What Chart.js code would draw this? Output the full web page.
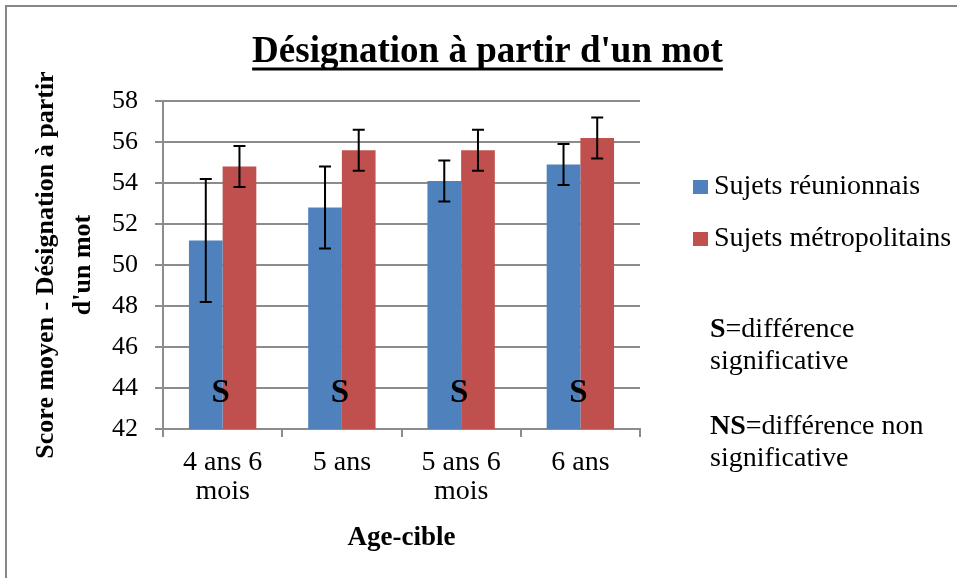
<!DOCTYPE html>
<html>
<head>
<meta charset="utf-8">
<script src="https://cdn.jsdelivr.net/npm/chart.js@4.4.1/dist/chart.umd.min.js"></script>
<style>
    html, body { margin: 0; padding: 0; background: #fff; }
    #cadre { width: 957px; height: 578px; position: relative; }
</style>
</head>
<body>
<div id="cadre"><canvas id="chartDesignation"></canvas></div>
<script>
const titre = "Désignation à partir d'un mot";
const categories = [['4 ans 6', 'mois'], '5 ans', ['5 ans 6', 'mois'], '6 ans'];
const series = ['Sujets réunionnais', 'Sujets métropolitains'];
const scoresReunion = [51.2, 52.8, 54.1, 54.9];
const scoresMetropole = [54.8, 55.6, 55.6, 56.2];
const erreursReunion = [3.0, 2.0, 1.0, 1.0];
const erreursMetropole = [1.0, 1.0, 1.0, 1.0];
const significativite = ['S', 'S', 'S', 'S'];
const yTicks = [42, 44, 46, 48, 50, 52, 54, 56, 58];
const notes = [['S', '=différence'], ['', 'significative'], ['NS', '=différence non'], ['', 'significative']];

const police = "'Liberation Serif', 'Times New Roman', serif";
const gris = '#8c8c8c';

Chart.defaults.font.family = police;
Chart.defaults.color = '#000';

// cadre gris + titre souligné
const decorPlugin = {
    id: 'decor',
    afterDraw(chart) {
        const ctx = chart.ctx;
        ctx.save();
        ctx.strokeStyle = '#878787';
        ctx.lineWidth = 2;
        ctx.strokeRect(6, 6, chart.width, chart.height);

        ctx.font = 'bold 37px ' + police;
        ctx.fillStyle = '#000';
        ctx.textAlign = 'center';
        ctx.textBaseline = 'middle';
        const cx = 487.5;
        ctx.fillText(titre, cx, 52);
        const w = ctx.measureText(titre).width;
        ctx.lineWidth = 3;
        ctx.strokeStyle = '#000';
        ctx.beginPath();
        ctx.moveTo(cx - w / 2, 69);
        ctx.lineTo(cx + w / 2, 69);
        ctx.stroke();
        ctx.restore();
    }
};

// barres d'erreur
const erreursPlugin = {
    id: 'erreurs',
    afterDatasetsDraw(chart) {
        const ctx = chart.ctx;
        const y = chart.scales.y;
        const erreurs = [erreursReunion, erreursMetropole];
        ctx.save();
        ctx.strokeStyle = '#000';
        ctx.lineWidth = 2;
        chart.data.datasets.forEach((ds, d) => {
            chart.getDatasetMeta(d).data.forEach((bar, i) => {
                const v = ds.data[i];
                const e = erreurs[d][i];
                const haut = y.getPixelForValue(v + e);
                const bas = y.getPixelForValue(v - e);
                ctx.beginPath();
                ctx.moveTo(bar.x, haut);
                ctx.lineTo(bar.x, bas);
                ctx.moveTo(bar.x - 6, haut);
                ctx.lineTo(bar.x + 6, haut);
                ctx.moveTo(bar.x - 6, bas);
                ctx.lineTo(bar.x + 6, bas);
                ctx.stroke();
            });
        });

        // S = difference significative
        const m0 = chart.getDatasetMeta(0).data;
        const m1 = chart.getDatasetMeta(1).data;
        ctx.font = 'bold 33px ' + police;
        ctx.fillStyle = '#000';
        ctx.textAlign = 'center';
        ctx.textBaseline = 'middle';
        significativite.forEach((s, i) => {
            const x = (m0[i].x + m1[i].x) / 2 - 2;
            ctx.fillText(s, x, y.getPixelForValue(43.75));
        });
        ctx.restore();
    }
};

// legende + notes a droite
const legendePlugin = {
    id: 'legende',
    afterDraw(chart) {
        const ctx = chart.ctx;
        ctx.save();
        ctx.textBaseline = 'middle';
        ctx.textAlign = 'left';
        chart.data.datasets.forEach((ds, d) => {
            const cy = 187 + d * 52;
            ctx.fillStyle = ds.backgroundColor;
            ctx.fillRect(693, cy - 7, 15, 14);
            ctx.fillStyle = '#000';
            ctx.font = '28px ' + police;
            ctx.fillText(ds.label, 714, cy);
        });
        const lignes = [330, 362, 427, 459];
        notes.forEach((n, i) => {
            let x = 710;
            if (n[0]) {
                ctx.font = 'bold 28px ' + police;
                ctx.fillText(n[0], x, lignes[i]);
                x += ctx.measureText(n[0]).width;
            }
            ctx.font = '28px ' + police;
            ctx.fillText(n[1], x, lignes[i]);
        });
        ctx.restore();
    }
};

const chartDesignation = new Chart(document.getElementById('chartDesignation'), {
    type: 'bar',
    data: {
        labels: categories,
        datasets: [{
            label: series[0],
            data: scoresReunion,
            backgroundColor: '#4f81bd',
            barPercentage: 1,
            categoryPercentage: 0.565
        }, {
            label: series[1],
            data: scoresMetropole,
            backgroundColor: '#c0504d',
            barPercentage: 1,
            categoryPercentage: 0.565
        }]
    },
    options: {
        responsive: true,
        maintainAspectRatio: false,
        devicePixelRatio: 1,
        animation: false,
        layout: { padding: { left: 26, right: 317, top: 101, bottom: 23 } },
        plugins: {
            legend: { display: false },
            title: { display: false },
            tooltip: { enabled: false }
        },
        scales: {
            x: {
                afterFit(scale) { scale.height = 126; },
                grid: { drawOnChartArea: false, drawTicks: true, tickLength: 8, color: gris, lineWidth: 2 },
                border: { display: true, color: gris, width: 2 },
                ticks: { font: { size: 28, lineHeight: 1.05 }, padding: 11, maxRotation: 0, autoSkip: false },
                title: {
                    display: true,
                    text: 'Age-cible',
                    font: { size: 27, weight: 'bold', lineHeight: 1.2 },
                    padding: { top: 9, bottom: 1 }
                }
            },
            y: {
                min: 42,
                max: 58,
                afterFit(scale) { scale.width = 137; },
                afterBuildTicks(scale) { scale.ticks = yTicks.map(v => ({ value: v })); },
                grid: { color: gris, lineWidth: 2, tickLength: 8 },
                border: { display: true, color: gris, width: 2 },
                ticks: { font: { size: 26 }, padding: 17 },
                title: {
                    display: true,
                    text: ['Score moyen - Désignation à partir', "d'un mot"],
                    font: { size: 26, weight: 'bold', lineHeight: 1.45 },
                    padding: { top: 1, bottom: 9 }
                }
            }
        }
    },
    plugins: [decorPlugin, erreursPlugin, legendePlugin]
});
</script>
</body>
</html>
